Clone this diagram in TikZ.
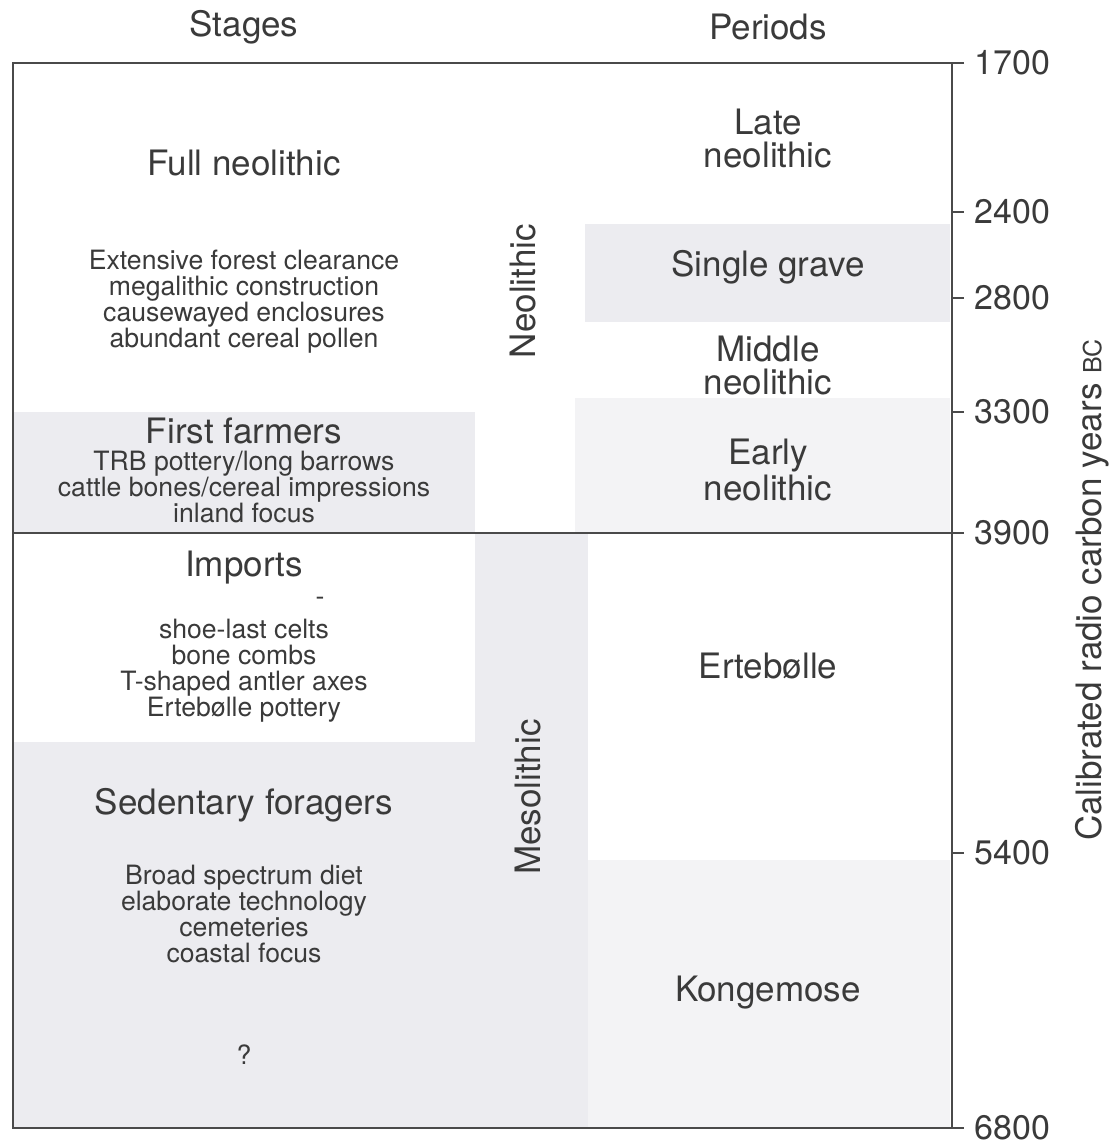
\documentclass[tikz,border=0pt]{standalone}
\usepackage{fontspec}
\setmainfont{TeX Gyre Heros}
\definecolor{ink}{HTML}{3A3A3A}
\definecolor{bandcol}{HTML}{ECECF0}
\definecolor{bandlight}{HTML}{F3F3F5}
\definecolor{rulecol}{HTML}{4A4A4A}
\begin{document}
\begin{tikzpicture}[x=0.5pt,y=-0.5pt,
  every node/.style={text=ink, inner sep=0pt},
  big/.style={font=\fontsize{17.5}{16.5}\selectfont, align=center},
  small/.style={font=\fontsize{13.3}{13}\selectfont, align=center},
  yr/.style={font=\fontsize{17}{17}\selectfont, anchor=west, xshift=5pt},
  frame/.style={draw=rulecol, line width=1pt}]
\useasboundingbox (0,0) rectangle (1119,1145);
% shaded bands
\fill[bandcol] (585,224) rectangle (950,322);
\fill[bandlight] (575,398) rectangle (950,533);
\fill[bandcol] (13,412) rectangle (475,533);
\fill[bandcol] (475,533) rectangle (588,1128);
\fill[bandcol] (13,742) rectangle (475,1128);
\fill[bandlight] (588,860) rectangle (950,1128);
% frame coordinates
\coordinate (tl) at (13,63);
\coordinate (bl) at (13,1128);
\coordinate (ml) at (13,533);
\coordinate (a1700) at (952,63);
\coordinate (a2400) at (952,212);
\coordinate (a2800) at (952,298);
\coordinate (a3300) at (952,412);
\coordinate (a3900) at (952,533);
\coordinate (a5400) at (952,853);
\coordinate (a6800) at (952,1128);
\foreach \n in {1700,2400,2800,3300,3900,5400,6800}
  \coordinate (e\n) at ([xshift=6pt]a\n);
% frame lines
\draw[frame] (e1700) -- (tl) -- (bl) -- (e6800);
\draw[frame] (a1700) -- (a6800);
\draw[frame] (ml) -- (e3900);
\foreach \n in {2400,2800,3300,5400}
  \draw[frame] (a\n) -- (e\n);
% year labels
\foreach \n in {1700,2400,2800,3300,3900,5400,6800}
  \node[yr] (y\n) at (e\n) {\n};
\node[big, rotate=90] (axis) at (1092,590) {Calibrated radio carbon years {\fontsize{12.5}{12.5}\selectfont BC}};
% headings
\node[big] (stages) at (244,27) {Stages};
\node[big] (periods) at (768,27) {Periods};
% stages column
\node[big] (full) at (244,163) {Full neolithic};
\node[small] (fulltxt) at (244,302) {Extensive forest clearance\\megalithic construction\\causewayed enclosures\\abundant cereal pollen};
\node[big] (first) at (244,431) {First farmers};
\node[small] (firsttxt) at (244,487) {TRB pottery/long barrows\\cattle bones/cereal impressions\\inland focus};
\node[big] (imports) at (244,568) {Imports};
\node[small] (mark) at (320,601) {-};
\node[small] (imptxt) at (244,671) {shoe-last celts\\bone combs\\T-shaped antler axes\\Ertebølle pottery};
\node[big] (sed) at (244,805) {Sedentary foragers};
\node[small] (sedtxt) at (244,914) {Broad spectrum diet\\elaborate technology\\cemeteries\\coastal focus};
\node[small] (q) at (244,1055) {?};
% middle column
\node[big, rotate=90] (neo) at (523,291) {Neolithic};
\node[big, rotate=90] (meso) at (528,797) {Mesolithic};
% periods column
\node[big] (late) at (768,139) {Late\\neolithic};
\node[big] (single) at (768,267) {Single grave};
\node[big] (middle) at (768,366) {Middle\\neolithic};
\node[big] (early) at (768,470) {Early\\neolithic};
\node[big] (ert) at (768,666) {Ertebølle};
\node[big] (kong) at (768,993) {Kongemose};
\end{tikzpicture}
\end{document}
